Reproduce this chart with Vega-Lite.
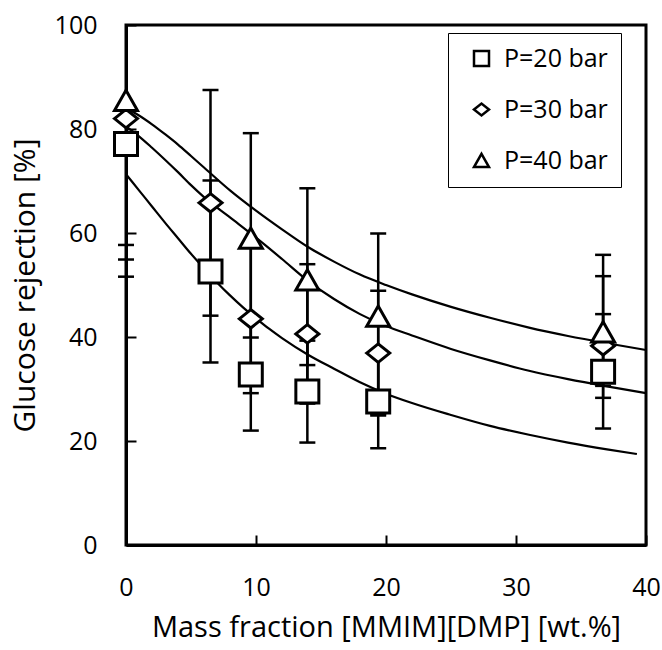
{
  "$schema": "https://vega.github.io/schema/vega-lite/v6.json",
  "width": 520,
  "height": 520,
  "autosize": "none",
  "padding": {"left": 126, "top": 25, "right": 16, "bottom": 105},
  "background": "white",
  "config": {
    "view": {"stroke": "black", "strokeWidth": 3},
    "font": "Open Sans",
    "axis": {
      "domainColor": "black", "domainWidth": 3,
      "tickColor": "black", "tickWidth": 2, "tickSize": -10,
      "grid": false, "labelFlush": false,
      "labelColor": "black", "titleColor": "black",
      "labelFont": "Open Sans", "titleFont": "Open Sans",
      "labelFontSize": 25, "titleFontWeight": "normal"
    },
    "axisX": {"labelPadding": 40, "titlePadding": 13, "titleFontSize": 29},
    "axisY": {"labelPadding": 39, "titlePadding": 14, "titleFontSize": 30}
  },
  "datasets": {
    "points": [
      {"series": "P=20 bar", "x": 0, "y": 77.1, "lo": 51.6, "hi": 102.6},
      {"series": "P=20 bar", "x": 6.5, "y": 52.6, "lo": 35.1, "hi": 70.1},
      {"series": "P=20 bar", "x": 9.6, "y": 32.8, "lo": 22.0, "hi": 43.6},
      {"series": "P=20 bar", "x": 13.95, "y": 29.5, "lo": 19.7, "hi": 39.3},
      {"series": "P=20 bar", "x": 19.4, "y": 27.6, "lo": 18.6, "hi": 36.6},
      {"series": "P=20 bar", "x": 36.7, "y": 33.3, "lo": 22.4, "hi": 44.4},
      {"series": "P=30 bar", "x": 0, "y": 82.0, "lo": 54.9, "hi": 109.1},
      {"series": "P=30 bar", "x": 6.5, "y": 65.8, "lo": 44.1, "hi": 87.5},
      {"series": "P=30 bar", "x": 9.6, "y": 43.5, "lo": 29.2, "hi": 57.8},
      {"series": "P=30 bar", "x": 13.95, "y": 40.6, "lo": 27.2, "hi": 54.0},
      {"series": "P=30 bar", "x": 19.4, "y": 36.9, "lo": 24.9, "hi": 48.9},
      {"series": "P=30 bar", "x": 36.7, "y": 38.3, "lo": 28.3, "hi": 51.7},
      {"series": "P=40 bar", "x": 0, "y": 85.5, "lo": 57.7, "hi": 113.3},
      {"series": "P=40 bar", "x": 9.6, "y": 59.0, "lo": 39.9, "hi": 79.2},
      {"series": "P=40 bar", "x": 13.95, "y": 51.0, "lo": 34.6, "hi": 68.6},
      {"series": "P=40 bar", "x": 19.4, "y": 44.0, "lo": 25.2, "hi": 59.9},
      {"series": "P=40 bar", "x": 36.7, "y": 41.0, "lo": 30.6, "hi": 55.8}
    ],
    "curves": [
      {"curve": "c40", "x": 0, "y": 84.0}, {"curve": "c40", "x": 1, "y": 82.6}, {"curve": "c40", "x": 2, "y": 80.9},
      {"curve": "c40", "x": 3, "y": 79.0}, {"curve": "c40", "x": 4, "y": 77.0}, {"curve": "c40", "x": 5, "y": 74.8},
      {"curve": "c40", "x": 6, "y": 72.6}, {"curve": "c40", "x": 8, "y": 68.2}, {"curve": "c40", "x": 10, "y": 64.3},
      {"curve": "c40", "x": 12, "y": 60.7}, {"curve": "c40", "x": 14, "y": 57.3}, {"curve": "c40", "x": 16, "y": 54.5},
      {"curve": "c40", "x": 18, "y": 52.0}, {"curve": "c40", "x": 20, "y": 50.0}, {"curve": "c40", "x": 22, "y": 48.2},
      {"curve": "c40", "x": 25, "y": 45.8}, {"curve": "c40", "x": 28, "y": 43.7}, {"curve": "c40", "x": 31, "y": 41.8},
      {"curve": "c40", "x": 34, "y": 40.2}, {"curve": "c40", "x": 37, "y": 38.8}, {"curve": "c40", "x": 40, "y": 37.5},
      {"curve": "c30", "x": 0, "y": 80.5}, {"curve": "c30", "x": 1, "y": 78.6}, {"curve": "c30", "x": 2, "y": 76.4},
      {"curve": "c30", "x": 3, "y": 74.1}, {"curve": "c30", "x": 4, "y": 71.7}, {"curve": "c30", "x": 5, "y": 69.2},
      {"curve": "c30", "x": 6, "y": 66.9}, {"curve": "c30", "x": 8, "y": 63.0}, {"curve": "c30", "x": 10, "y": 59.1},
      {"curve": "c30", "x": 12, "y": 55.0}, {"curve": "c30", "x": 14, "y": 50.8}, {"curve": "c30", "x": 16, "y": 47.3},
      {"curve": "c30", "x": 18, "y": 44.4}, {"curve": "c30", "x": 20, "y": 42.1}, {"curve": "c30", "x": 22, "y": 40.3},
      {"curve": "c30", "x": 25, "y": 37.7}, {"curve": "c30", "x": 28, "y": 35.5}, {"curve": "c30", "x": 31, "y": 33.5},
      {"curve": "c30", "x": 34, "y": 31.9}, {"curve": "c30", "x": 37, "y": 30.5}, {"curve": "c30", "x": 40, "y": 29.2},
      {"curve": "c20", "x": 0, "y": 71.3}, {"curve": "c20", "x": 1, "y": 68.2}, {"curve": "c20", "x": 2, "y": 65.1},
      {"curve": "c20", "x": 3, "y": 62.0}, {"curve": "c20", "x": 4, "y": 59.0}, {"curve": "c20", "x": 5, "y": 56.0},
      {"curve": "c20", "x": 6, "y": 53.2}, {"curve": "c20", "x": 7, "y": 50.5}, {"curve": "c20", "x": 8, "y": 48.0},
      {"curve": "c20", "x": 9, "y": 45.7}, {"curve": "c20", "x": 10, "y": 43.6}, {"curve": "c20", "x": 11, "y": 41.6},
      {"curve": "c20", "x": 12, "y": 39.8}, {"curve": "c20", "x": 14, "y": 36.6}, {"curve": "c20", "x": 16, "y": 33.9},
      {"curve": "c20", "x": 18, "y": 31.3}, {"curve": "c20", "x": 20, "y": 29.1}, {"curve": "c20", "x": 22, "y": 27.3},
      {"curve": "c20", "x": 25, "y": 25.0}, {"curve": "c20", "x": 28, "y": 22.9}, {"curve": "c20", "x": 31, "y": 21.2},
      {"curve": "c20", "x": 34, "y": 19.7}, {"curve": "c20", "x": 37, "y": 18.4}, {"curve": "c20", "x": 39.3, "y": 17.5}
    ]
  },
  "layer": [
    {
      "data": {"name": "curves"},
      "mark": {"type": "line", "color": "black", "strokeWidth": 2.2, "interpolate": "monotone"},
      "encoding": {
        "x": {"field": "x", "type": "quantitative", "scale": {"domain": [0, 40], "nice": false}, "title": "Mass fraction [MMIM][DMP] [wt.%]", "axis": {"values": [0, 10, 20, 30, 40]}},
        "y": {"field": "y", "type": "quantitative", "scale": {"domain": [0, 100], "nice": false}, "title": "Glucose rejection [%]", "axis": {"values": [0, 20, 40, 60, 80, 100]}},
        "detail": {"field": "curve"}
      }
    },
    {
      "data": {"name": "points"},
      "mark": {"type": "rule", "color": "black", "strokeWidth": 2.5, "clip": true},
      "encoding": {
        "x": {"field": "x", "type": "quantitative", "title": "Mass fraction [MMIM][DMP] [wt.%]"},
        "y": {"field": "lo", "type": "quantitative", "title": "Glucose rejection [%]"},
        "y2": {"field": "hi"}
      }
    },
    {
      "data": {"name": "points"},
      "transform": [
        {"fold": ["lo", "hi"], "as": ["end", "value"]},
        {"filter": "datum.value <= 100"}
      ],
      "mark": {"type": "tick", "orient": "horizontal", "color": "black", "size": 16, "thickness": 2.5, "opacity": 1},
      "encoding": {
        "x": {"field": "x", "type": "quantitative", "title": "Mass fraction [MMIM][DMP] [wt.%]"},
        "y": {"field": "value", "type": "quantitative", "title": "Glucose rejection [%]"}
      }
    },
    {
      "data": {"name": "points"},
      "mark": {"type": "point", "filled": false, "fill": "white", "stroke": "black", "strokeWidth": 3, "opacity": 1, "fillOpacity": 1, "strokeJoin": "miter", "size": 529},
      "encoding": {
        "x": {"field": "x", "type": "quantitative", "title": "Mass fraction [MMIM][DMP] [wt.%]"},
        "y": {"field": "y", "type": "quantitative", "title": "Glucose rejection [%]"},
        "shape": {
          "field": "series", "type": "nominal",
          "scale": {
            "domain": ["P=20 bar", "P=30 bar", "P=40 bar"],
            "range": ["M-1,-1H1V1H-1Z", "M-1,0L0,-0.8L1,0L0,0.8Z", "M0,-0.88L1,0.88L-1,0.88Z"]
          },
          "legend": {
            "title": null, "orient": "none", "legendX": 322, "legendY": 8,
            "strokeColor": "black",
            "padding": 13, "rowPadding": 25,
            "symbolSize": 225, "symbolStrokeWidth": 2.5, "symbolOffset": 8,
            "labelFontSize": 25, "labelFont": "Open Sans", "labelColor": "black", "labelOffset": 10,
            "encode": {
              "legend": {"update": {"strokeWidth": {"value": 3}}}
            }
          }
        }
      }
    }
  ]
}
